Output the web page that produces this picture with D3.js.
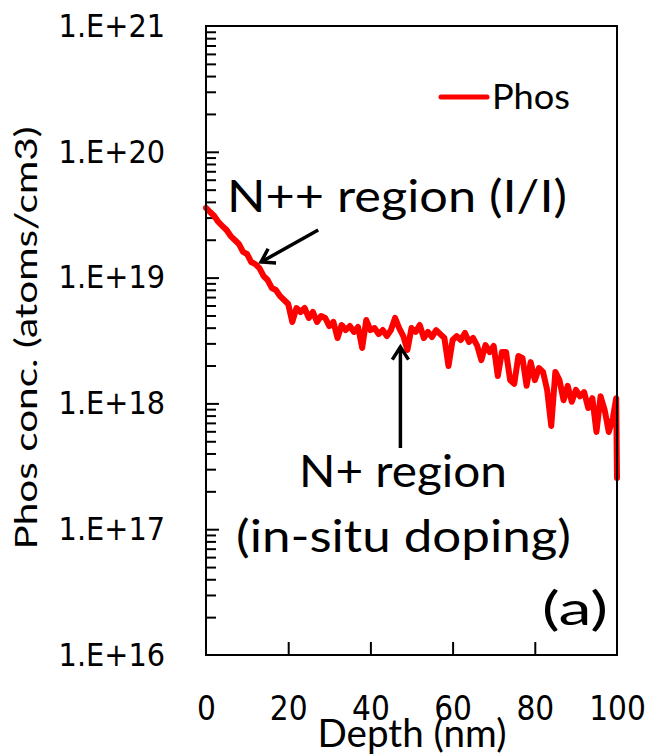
<!DOCTYPE html>
<html>
<head>
<meta charset="utf-8">
<script src="https://cdn.jsdelivr.net/npm/d3@7/dist/d3.min.js"></script>
<style>
  html, body { margin: 0; padding: 0; background: #fff; }
  svg { display: block; }
</style>
</head>
<body>
<svg id="chart" width="651" height="755"></svg>
<script>
// SIMS depth profile of phosphorus
const depth = [
  0, 1, 2, 3, 4, 5, 6, 7, 8, 9,
  10, 11, 12, 13, 14, 15, 16, 17, 18, 19,
  20, 21, 22, 23, 24, 25, 26, 27, 28, 29,
  30, 31, 32, 33, 34, 35, 36, 37, 38, 39,
  40, 41, 42, 43, 44, 45, 46, 47, 48, 49,
  50, 51, 52, 53, 54, 55, 56, 57, 58, 59,
  60, 61, 62, 63, 64, 65, 66, 67, 68, 69,
  70, 71, 72, 73, 74, 75, 76, 77, 78, 79,
  80, 81, 82, 83, 84, 85, 86, 87, 88, 89,
  90, 91, 92, 93, 94, 95, 96, 97, 98, 99,
  99.8, 100
];
const phosConc = [
  3.58e19, 3.32e19, 3.09e19, 2.77e19, 2.57e19, 2.39e19, 2.14e19, 1.99e19, 1.85e19, 1.60e19,
  1.54e19, 1.33e19, 1.28e19, 1.19e19, 1.03e19, 9.57e18, 8.27e18, 7.97e18, 7.14e18, 6.64e18,
  6.17e18, 4.44e18, 5.73e18, 5.33e18, 5.73e18, 4.78e18, 5.33e18, 4.44e18, 4.95e18, 4.78e18,
  4.12e18, 4.44e18, 3.31e18, 4.20e18, 3.83e18, 4.12e18, 3.70e18, 4.05e18, 2.76e18, 4.60e18,
  3.83e18, 3.97e18, 3.56e18, 3.83e18, 3.43e18, 3.83e18, 4.78e18, 3.97e18, 3.43e18, 2.66e18,
  3.97e18, 3.70e18, 4.20e18, 3.31e18, 3.70e18, 3.37e18, 3.83e18, 3.56e18, 3.31e18, 1.98e18,
  3.19e18, 3.43e18, 3.19e18, 3.63e18, 3.08e18, 3.31e18, 2.86e18, 2.21e18, 2.91e18, 2.56e18,
  2.86e18, 1.65e18, 2.56e18, 2.56e18, 1.53e18, 1.43e18, 2.38e18, 2.30e18, 1.38e18, 2.13e18,
  1.53e18, 1.91e18, 1.78e18, 1.28e18, 6.61e17, 1.78e18, 1.53e18, 1.06e18, 1.38e18, 1.03e18,
  1.28e18, 1.14e18, 1.23e18, 9.19e17, 1.10e18, 5.93e17, 1.14e18, 8.86e17, 5.93e17, 7.65e17,
  1.10e18, 2.55e17
];

const yTickValues = [1e16, 1e17, 1e18, 1e19, 1e20, 1e21];
const yTickLabels = ["1.E+16", "1.E+17", "1.E+18", "1.E+19", "1.E+20", "1.E+21"];
const xTickValues = [0, 20, 40, 60, 80, 100];
const xTickLabels = ["0", "20", "40", "60", "80", "100"];

const seriesName = "Phos";
const xTitle = "Depth (nm)";
const yTitle = "Phos conc. (atoms/cm3)";

// arrows: [from depth, from conc] -> [to depth, to conc]
const arrowFrom = [[27.3, 2.39e19], [47.3, 4.42e17]];
const arrowTo   = [[13.4, 1.33e19], [47.3, 2.81e18]];

// ---- layout ----
const plotL = 206, plotR = 617, plotT = 26, plotB = 655;
const textFont = "Lato, 'Open Sans', sans-serif";
const tickFont = "'DejaVu Sans Condensed', 'DejaVu Sans', sans-serif";

const svg = d3.select("#chart");

const x = d3.scaleLinear().domain([0, 100]).range([plotL, plotR]);
const y = d3.scaleLog().domain([1e16, 1e21]).range([plotB, plotT]);

// minor ticks 2..9 per decade
const minorTicks = [];
for (let e = 16; e < 21; e++) {
  for (let m = 2; m <= 9; m++) minorTicks.push(m * Math.pow(10, e));
}

// inside tick marks on the left edge
svg.append("g")
  .attr("transform", `translate(${plotL},0)`)
  .call(d3.axisRight(y).tickValues(minorTicks).tickSize(10).tickFormat(""))
  .call(g => g.select(".domain").remove())
  .call(g => g.selectAll("line").attr("stroke", "#000").attr("stroke-width", 2));
svg.append("g")
  .attr("transform", `translate(${plotL},0)`)
  .call(d3.axisRight(y).tickValues(yTickValues.slice(1, -1)).tickSize(13).tickFormat(""))
  .call(g => g.select(".domain").remove())
  .call(g => g.selectAll("line").attr("stroke", "#000").attr("stroke-width", 2));

// inside tick marks on the bottom edge
svg.append("g")
  .attr("transform", `translate(0,${plotB})`)
  .call(d3.axisTop(x).tickValues(xTickValues.slice(1, -1)).tickSize(13).tickFormat(""))
  .call(g => g.select(".domain").remove())
  .call(g => g.selectAll("line").attr("stroke", "#000").attr("stroke-width", 2));

// tick labels
svg.append("g")
  .attr("transform", `translate(${plotL},0)`)
  .call(d3.axisLeft(y).tickValues(yTickValues).tickSize(0).tickPadding(41)
    .tickFormat((d, i) => yTickLabels[i]))
  .call(g => g.select(".domain").remove())
  .call(g => g.selectAll("text")
    .attr("font-family", tickFont).attr("font-size", 32).attr("fill", "#000"));

svg.append("g")
  .attr("transform", `translate(0,${plotB})`)
  .call(d3.axisBottom(x).tickValues(xTickValues).tickSize(0).tickPadding(42)
    .tickFormat((d, i) => xTickLabels[i]))
  .call(g => g.select(".domain").remove())
  .call(g => g.selectAll("text")
    .attr("font-family", tickFont).attr("font-size", 33).attr("fill", "#000"));

// data line
const pts = depth.map((d, i) => [d, phosConc[i]]);
const line = d3.line().x(d => x(d[0])).y(d => y(d[1]));
svg.append("path")
  .datum(pts)
  .attr("d", line)
  .attr("fill", "none")
  .attr("stroke", "#ff0000")
  .attr("stroke-width", 6)
  .attr("stroke-linejoin", "round")
  .attr("stroke-linecap", "round");

// plot frame
svg.append("rect")
  .attr("x", plotL).attr("y", plotT)
  .attr("width", plotR - plotL).attr("height", plotB - plotT)
  .attr("fill", "none").attr("stroke", "#000").attr("stroke-width", 2);

// legend
svg.append("line")
  .attr("x1", 441).attr("x2", 487).attr("y1", 97).attr("y2", 97)
  .attr("stroke", "#ff0000").attr("stroke-width", 5).attr("stroke-linecap", "round");
svg.append("text")
  .attr("x", 492).attr("y", 109)
  .attr("font-family", textFont).attr("font-size", 35)
  .attr("textLength", 78).attr("lengthAdjust", "spacingAndGlyphs")
  .text(seriesName);

// annotations
function label(txt, x0, yb, size, len) {
  svg.append("text")
    .attr("x", x0).attr("y", yb)
    .attr("font-family", textFont).attr("font-size", size).attr("fill", "#000")
    .attr("textLength", len).attr("lengthAdjust", "spacingAndGlyphs")
    .text(txt);
}
label("N++ region (I/I)", 227, 212, 44, 340);
label("N+ region", 299, 487, 44, 208);
label("(in-situ doping)", 236, 552, 44, 335);
label("(a)", 542, 625, 46, 66);

// arrows
arrowFrom.forEach((f, i) => {
  const t = arrowTo[i];
  const x1 = x(f[0]), y1 = y(f[1]), x2 = x(t[0]), y2 = y(t[1]);
  const ang = Math.atan2(y2 - y1, x2 - x1);
  const head = 15, spread = Math.PI / 5.5;
  svg.append("line")
    .attr("x1", x1).attr("y1", y1).attr("x2", x2).attr("y2", y2)
    .attr("stroke", "#000").attr("stroke-width", 3.5);
  svg.append("path")
    .attr("d", `M${x2 - head * Math.cos(ang - spread)},${y2 - head * Math.sin(ang - spread)}` +
               `L${x2},${y2}` +
               `L${x2 - head * Math.cos(ang + spread)},${y2 - head * Math.sin(ang + spread)}`)
    .attr("fill", "none").attr("stroke", "#000").attr("stroke-width", 3.5)
    .attr("stroke-linejoin", "miter");
});

// axis titles
svg.append("text")
  .attr("x", 412).attr("y", 747)
  .attr("text-anchor", "middle")
  .attr("font-family", textFont).attr("font-size", 38)
  .attr("textLength", 189).attr("lengthAdjust", "spacingAndGlyphs")
  .text(xTitle);

svg.append("text")
  .attr("transform", "translate(37,338) rotate(-90)")
  .attr("text-anchor", "middle")
  .attr("font-family", textFont).attr("font-size", 30)
  .attr("textLength", 423).attr("lengthAdjust", "spacingAndGlyphs")
  .text(yTitle);
</script>
</body>
</html>
